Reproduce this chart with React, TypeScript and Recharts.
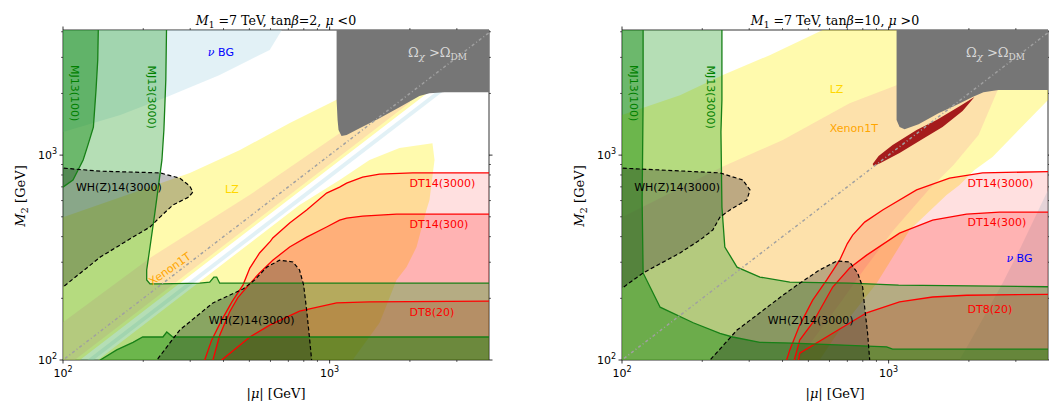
import React from 'react';
import { ScatterChart, Scatter, XAxis, YAxis } from 'recharts';

type P = [number, number];

// axes (|mu| and M2 in GeV, both log)
const X_DOMAIN: [number, number] = [100, 3960];
const Y_DOMAIN: [number, number] = [100, 4080];
const xTicks = [100, 200, 300, 400, 500, 600, 700, 800, 900, 1000, 2000, 3000];
const yTicks = [100, 200, 300, 400, 500, 600, 700, 800, 900, 1000, 2000, 3000, 4000];
const tickExp: Record<number, string> = { 100: '2', 1000: '3' };

// M2 = |mu|
const diagonal: P[] = [[90, 90], [5000, 5000]];

// ---- left: M1 = 7 TeV, tan(beta) = 2, mu < 0 ----
const nuBgTopL: P[] = [[90, 4500], [662, 4500], [662, 4080], [596, 3260], [387, 2460], [245, 1920], [164, 1570], [100, 1296], [90, 1250]];
const nuBgStripeL: P[] = [[120, 92.2], [2700, 2074], [2700, 2192], [120, 97.4]];
const lzUpperL: P[] = [[90, 470], [100, 498], [299, 819], [461, 1059], [709, 1433], [1090, 1895], [1830, 4080], [1900, 5000], [5000, 5000], [5000, 4320], [100, 86.4], [90, 77.8]];
const lzLowerL: P[] = [[90, 66.6], [100, 74], [771, 571], [1090, 756], [1411, 947], [1828, 1082], [2430, 1144], [2474, 947], [2369, 604], [2307, 540], [2118, 356], [1943, 284], [1782, 246], [1540, 152], [1220, 100], [1150, 90], [90, 60]];
const xenonL: P[] = [[90, 138], [100, 153], [212, 315], [501, 638], [1090, 1279], [1540, 1750], [2000, 2600], [2000, 1808], [100, 90.4], [90, 81.4]];
const dt3000L: P[] = [[335, 90], [340, 100], [361, 125], [394, 157], [430, 192], [473, 232], [502, 281], [546, 333], [600, 380], [612, 394], [708, 466], [820, 540], [974, 653], [1090, 698], [1158, 730], [1329, 781], [1538, 808], [2047, 819], [5000, 819], [5000, 90]];
const dt300L: P[] = [[345, 90], [365, 100], [387, 132], [422, 172], [452, 201], [489, 227], [546, 266], [612, 307], [708, 356], [820, 398], [974, 446], [1090, 482], [1158, 493], [1329, 504], [1782, 515], [5000, 515], [5000, 90]];
const dt20L: P[] = [[381, 90], [394, 100], [502, 129.5], [596, 148], [771, 173], [1062, 190], [1411, 192], [5000, 194], [5000, 90]];
const mj3000L: P[] = [[245, 5000], [243, 2329], [239, 1327], [235, 947], [227, 676], [221, 521], [212, 356], [206, 275], [206, 246], [212, 235], [231, 235], [326, 237], [355, 240], [368, 254], [377, 254], [387, 237], [5000, 237], [5000, 80], [80, 80], [80, 5000]];
const mj100aL: P[] = [[136, 5000], [135, 2917], [133, 2081], [130, 1370], [124, 1119], [119, 947], [109, 756], [100, 698], [90, 670], [80, 670], [80, 5000]];
const mj100bL: P[] = [[130, 90], [138, 100], [159, 112], [183, 122], [199, 129.5], [237, 129.5], [245, 137], [258, 129.5], [5000, 129.5], [5000, 90]];
const whUpperL: P[] = [[90, 864], [100, 864], [138, 835], [231, 819], [274, 772], [299, 706], [307, 660], [296, 624], [258, 570], [231, 498], [212, 446], [183, 398], [138, 318], [100, 227], [90, 212]];
const whLowerL: P[] = [[212, 90], [225, 100], [274, 140], [365, 190], [473, 222], [524, 246], [581, 284], [649, 307], [728, 301], [771, 275], [799, 232], [820, 175], [842, 125], [856, 100], [865, 90]];
const omegaL: P[] = [[1062, 4500], [1062, 1860], [1071, 1485], [1080, 1327], [1108, 1238], [1158, 1252], [1295, 1354], [1538, 1515], [1828, 1714], [2172, 1941], [2368, 2007], [2698, 2028], [4500, 2028], [4500, 4500]];

// ---- right: M1 = 7 TeV, tan(beta) = 10, mu > 0 ----
const lzR: P[] = [[90, 1500], [100, 1570], [165, 1962], [239, 2460], [358, 3074], [566, 4080], [600, 5000], [5000, 5000], [5000, 2300], [3960, 1860], [2452, 978], [2099, 846], [1845, 714], [1649, 638], [1199, 431], [902, 237], [655, 140], [551, 100], [500, 80], [80, 80]];
const xenonR: P[] = [[90, 470], [100, 498], [237, 874], [401, 1186], [714, 1793], [1071, 2195], [1300, 3500], [2700, 2700], [2582, 2122], [2174, 1252], [1751, 894], [1411, 676], [1044, 431], [806, 275], [649, 185], [502, 118], [460, 100], [441, 89], [90, 89]];
const nuBgR: P[] = [[4500, 900], [3960, 676], [3094, 344], [2674, 237], [2137, 140], [1845, 100], [1750, 89], [5000, 89]];
const dt3000R: P[] = [[408, 94], [426, 112], [464, 148], [519, 196], [586, 246], [655, 307], [700, 370], [733, 407], [813, 471], [950, 540], [1273, 676], [1692, 772], [2250, 819], [5000, 835], [5000, 90]];
const dt300R: P[] = [[437, 94], [464, 125], [519, 152], [617, 227], [714, 281], [827, 325], [1099, 416], [1462, 482], [1960, 515], [2605, 527], [5000, 527], [5000, 90]];
const dt20R: P[] = [[452, 89], [464, 108], [617, 135], [827, 170], [1099, 192], [1462, 203], [1960, 207], [5000, 210], [5000, 89]];
const mj3000R: P[] = [[237, 5000], [237, 1860], [235, 1300], [237, 558], [243, 356], [270, 284], [329, 254], [426, 240], [714, 237], [1090, 232], [5000, 227], [5000, 80], [80, 80], [80, 5000]];
const mj100R: P[] = [[120, 5000], [120, 1860], [119, 604], [120, 266], [139, 181], [185, 152], [233, 135], [260, 129.5], [329, 122], [437, 121], [983, 116], [1035, 113], [5000, 113], [5000, 80], [80, 80], [80, 5000]];
const whUpperR: P[] = [[90, 864], [100, 864], [233, 819], [284, 756], [302, 676], [294, 604], [254, 540], [233, 498], [219, 431], [196, 385], [165, 333], [120, 266], [100, 224], [90, 215]];
const whLowerR: P[] = [[200, 90], [214, 100], [270, 140], [329, 170], [401, 207], [464, 237], [551, 275], [639, 304], [714, 301], [765, 266], [799, 227], [813, 181], [834, 135], [849, 100], [860, 90]];
const omegaR: P[] = [[1071, 4500], [1071, 1485], [1099, 1370], [1148, 1339], [1295, 1416], [1538, 1603], [1828, 1774], [2064, 1919], [2268, 2028], [2582, 2081], [4500, 2081], [4500, 4500]];
const blobR: P[] = [[871, 904], [917, 989], [1035, 1119], [1273, 1327], [1513, 1485], [1845, 1734], [2099, 1919], [1894, 1640], [1593, 1370], [1341, 1197], [1099, 1023], [933, 914], [879, 884]];

const SANS = 'DejaVu Sans, sans-serif';
const SERIF = 'DejaVu Serif, serif';

const C = {
  nu: '#add8e6',
  lz: '#ffee00',
  xenon: '#fab4aa',
  red: '#ff0000',
  green: '#2ca02c',
  darkGreen: '#008000',
  line: '#178017',
  wh: '#1a1a1a',
  omega: '#767676',
  blob: '#a51c1c',
};

const pts = (d: P[]) => d.map(([x, y]) => ({ x, y }));
const noDot = () => <g />;

function fillItem(key: string, d: P[], fill: string, alpha: number) {
  return (
    <Scatter key={key} data={pts(d)} isAnimationActive={false} shape={noDot}
      line={{ fill, fillOpacity: alpha, stroke: 'none' }} />
  );
}

function lineItem(key: string, d: P[], stroke: string, width: number, dash?: string) {
  return (
    <Scatter key={key} data={pts(d)} isAnimationActive={false} shape={noDot}
      line={{ fill: 'none', stroke, strokeWidth: width, strokeDasharray: dash }} />
  );
}

type NoteOpt = { color: string; anchor?: 'start' | 'middle' | 'end'; rotate?: number; size?: number; family?: string };

function noteItem(key: string, at: P, content: React.ReactNode, o: NoteOpt) {
  return (
    <Scatter key={key} data={[{ x: at[0], y: at[1] }]} isAnimationActive={false}
      shape={(p: any) => (
        <text x={p.cx} y={p.cy} fill={o.color} fontSize={o.size ?? 11} fontFamily={o.family ?? SANS}
          textAnchor={o.anchor ?? 'start'} dominantBaseline={o.rotate ? 'central' : undefined}
          transform={o.rotate ? `rotate(${o.rotate} ${p.cx} ${p.cy})` : undefined}>
          {content}
        </text>
      )} />
  );
}

const omegaText = (
  <>
    Ω<tspan dy={3} fontSize={10} fontStyle="italic">χ</tspan>
    <tspan dy={-3}> &gt;Ω</tspan>
    <tspan dy={3} fontSize={9}>DM</tspan>
  </>
);
const nuText = (
  <>
    <tspan fontFamily={SERIF} fontStyle="italic">ν</tspan> BG
  </>
);

// ---- ticks ----
const tLen = (v: number) => (tickExp[v] ? 3.5 : 2);
const tW = (v: number) => (tickExp[v] ? 0.8 : 0.6);
const pow = (v: number) => (
  <>
    10<tspan dy={-5} fontSize={8}>{tickExp[v]}</tspan>
  </>
);

const BottomTick = ({ x, y, payload }: any) => (
  <g>
    <line x1={x} x2={x} y1={y} y2={y + tLen(payload.value)} stroke="#000" strokeWidth={tW(payload.value)} />
    {tickExp[payload.value] && (
      <text x={x} y={y + 17} textAnchor="middle" fontFamily={SANS} fontSize={11} fill="#000">{pow(payload.value)}</text>
    )}
  </g>
);
const LeftTick = ({ x, y, payload }: any) => (
  <g>
    <line x1={x} x2={x - tLen(payload.value)} y1={y} y2={y} stroke="#000" strokeWidth={tW(payload.value)} />
    {tickExp[payload.value] && (
      <text x={x - 6} y={y + 4} textAnchor="end" fontFamily={SANS} fontSize={11} fill="#000">{pow(payload.value)}</text>
    )}
  </g>
);
const TopTick = ({ x, y, payload }: any) => (
  <line x1={x} x2={x} y1={y} y2={y - tLen(payload.value)} stroke="#000" strokeWidth={tW(payload.value)} />
);
const RightTick = ({ x, y, payload }: any) => (
  <line x1={x} x2={x + tLen(payload.value)} y1={y} y2={y} stroke="#000" strokeWidth={tW(payload.value)} />
);

// plot area: x 63..489, y 30..360 inside a 500x405 chart
function Panel({ items }: { items: React.ReactNode[] }) {
  return (
    <ScatterChart width={500} height={405} margin={{ top: 20, right: 1, bottom: 15, left: 23 }}>
      <XAxis dataKey="x" type="number" scale="log" domain={X_DOMAIN} allowDataOverflow ticks={xTicks}
        interval={0} height={30} tickSize={0} tickMargin={0} tick={BottomTick} stroke="#000" strokeWidth={0.8} />
      <XAxis xAxisId="top" orientation="top" dataKey="x" type="number" scale="log" domain={X_DOMAIN}
        allowDataOverflow ticks={xTicks} interval={0} height={10} tickSize={0} tickMargin={0} tick={TopTick}
        stroke="#000" strokeWidth={0.8} />
      <YAxis dataKey="y" type="number" scale="log" domain={Y_DOMAIN} allowDataOverflow ticks={yTicks}
        interval={0} width={40} tickSize={0} tickMargin={0} tick={LeftTick} stroke="#000" strokeWidth={0.8} />
      <YAxis yAxisId="right" orientation="right" dataKey="y" type="number" scale="log" domain={Y_DOMAIN}
        allowDataOverflow ticks={yTicks} interval={0} width={10} tickSize={0} tickMargin={0} tick={RightTick}
        stroke="#000" strokeWidth={0.8} />
      {items}
    </ScatterChart>
  );
}

const leftItems = [
  fillItem('nu1', nuBgTopL, C.nu, 0.35),
  fillItem('nu2', nuBgStripeL, C.nu, 0.35),
  fillItem('lz1', lzUpperL, C.lz, 0.32),
  fillItem('lz2', lzLowerL, C.lz, 0.32),
  fillItem('xe', xenonL, C.xenon, 0.36),
  fillItem('dt1', dt3000L, C.red, 0.12),
  fillItem('dt2', dt300L, C.red, 0.2),
  fillItem('dt3', dt20L, C.red, 0.25),
  fillItem('mj1', mj3000L, C.green, 0.35),
  fillItem('mj2', mj100aL, C.darkGreen, 0.4),
  fillItem('mj3', mj100bL, C.darkGreen, 0.4),
  fillItem('wh1', whUpperL, C.wh, 0.28),
  fillItem('wh2', whLowerL, C.wh, 0.28),
  fillItem('om', omegaL, C.omega, 1),
  lineItem('ldt1', dt3000L, C.red, 1.3),
  lineItem('ldt2', dt300L, C.red, 1.3),
  lineItem('ldt3', dt20L, C.red, 1.3),
  lineItem('lmj1', mj3000L, C.line, 1.3),
  lineItem('lmj2', mj100aL, C.line, 1.3),
  lineItem('lmj3', mj100bL, C.line, 1.3),
  lineItem('lwh1', whUpperL, '#000', 1.2, '4 2.5'),
  lineItem('lwh2', whLowerL, '#000', 1.2, '4 2.5'),
  lineItem('diag', diagonal, '#a0a0a0', 1.5, '3 2.5 1 2.5'),
  noteItem('n1', [391, 3040], nuText, { color: '#0000ff', anchor: 'middle' }),
  noteItem('n2', [2538, 3006], omegaText, { color: '#d9d9d9', anchor: 'middle', family: SERIF, size: 13 }),
  noteItem('n3', [430, 653], 'LZ', { color: '#ffd700', anchor: 'middle' }),
  noteItem('n4', [252, 278], 'Xenon1T', { color: '#ffa500', anchor: 'middle', rotate: -35 }),
  noteItem('n5', [162, 667], 'WH(Z)14(3000)', { color: '#000', anchor: 'middle' }),
  noteItem('n6', [510, 150], 'WH(Z)14(3000)', { color: '#000', anchor: 'middle' }),
  noteItem('n7', [1993, 698], 'DT14(3000)', { color: '#ff0000' }),
  noteItem('n8', [1993, 440], 'DT14(300)', { color: '#ff0000' }),
  noteItem('n9', [1993, 164], 'DT8(20)', { color: '#ff0000' }),
  noteItem('n10', [110, 2007], 'MJ13(100)', { color: '#008000', anchor: 'middle', rotate: 90 }),
  noteItem('n11', [215, 1919], 'MJ13(3000)', { color: '#008000', anchor: 'middle', rotate: 90 }),
];

const rightItems = [
  fillItem('lz', lzR, C.lz, 0.32),
  fillItem('xe', xenonR, C.xenon, 0.36),
  fillItem('nu', nuBgR, C.nu, 0.35),
  fillItem('dt1', dt3000R, C.red, 0.12),
  fillItem('dt2', dt300R, C.red, 0.2),
  fillItem('dt3', dt20R, C.red, 0.25),
  fillItem('mj1', mj3000R, C.green, 0.35),
  fillItem('mj2', mj100R, C.darkGreen, 0.4),
  fillItem('wh1', whUpperR, C.wh, 0.28),
  fillItem('wh2', whLowerR, C.wh, 0.28),
  fillItem('om', omegaR, C.omega, 1),
  fillItem('blob', blobR, C.blob, 1),
  lineItem('ldt1', dt3000R, C.red, 1.3),
  lineItem('ldt2', dt300R, C.red, 1.3),
  lineItem('ldt3', dt20R, C.red, 1.3),
  lineItem('lmj1', mj3000R, C.line, 1.3),
  lineItem('lmj2', mj100R, C.line, 1.3),
  lineItem('lwh1', whUpperR, '#000', 1.2, '4 2.5'),
  lineItem('lwh2', whLowerR, '#000', 1.2, '4 2.5'),
  lineItem('diag', diagonal, '#a0a0a0', 1.5, '3 2.5 1 2.5'),
  noteItem('n1', [601, 2007], 'LZ', { color: '#ffd700' }),
  noteItem('n2', [601, 1296], 'Xenon1T', { color: '#ffa500' }),
  noteItem('n3', [2516, 3006], omegaText, { color: '#d9d9d9', anchor: 'middle', family: SERIF, size: 13 }),
  noteItem('n4', [1977, 698], 'DT14(3000)', { color: '#ff0000' }),
  noteItem('n5', [1977, 450], 'DT14(300)', { color: '#ff0000' }),
  noteItem('n6', [1977, 170], 'DT8(20)', { color: '#ff0000' }),
  noteItem('n7', [3094, 301], nuText, { color: '#0000ff', anchor: 'middle' }),
  noteItem('n8', [161, 667], 'WH(Z)14(3000)', { color: '#000', anchor: 'middle' }),
  noteItem('n9', [510, 150], 'WH(Z)14(3000)', { color: '#000', anchor: 'middle' }),
  noteItem('n10', [110, 2007], 'MJ13(100)', { color: '#008000', anchor: 'middle', rotate: 90 }),
  noteItem('n11', [215, 1919], 'MJ13(3000)', { color: '#008000', anchor: 'middle', rotate: 90 }),
];

function Title({ x, tanb, sign }: { x: number; tanb: string; sign: string }) {
  return (
    <text x={x} y={25} textAnchor="middle" fontFamily={SERIF} fontSize={12.6} fill="#000">
      <tspan fontStyle="italic">M</tspan>
      <tspan dy={3} fontSize={9}>1</tspan>
      <tspan dy={-3}> =7 TeV, tan</tspan>
      <tspan fontStyle="italic">β</tspan>
      <tspan>={tanb}, </tspan>
      <tspan fontStyle="italic">μ</tspan>
      <tspan> {sign}0</tspan>
    </text>
  );
}

function AxisLabels({ dx }: { dx: number }) {
  return (
    <g fontFamily={SERIF} fontSize={13} fill="#000">
      <text x={276 + dx} y={398} textAnchor="middle">
        |<tspan fontStyle="italic">μ</tspan>| [GeV]
      </text>
      <text x={25 + dx} y={196} textAnchor="middle" transform={`rotate(-90 ${25 + dx} 196)`}>
        <tspan fontStyle="italic">M</tspan>
        <tspan dy={3} fontSize={10}>2</tspan>
        <tspan dy={-3}> [GeV]</tspan>
      </text>
    </g>
  );
}

export default function App() {
  return (
    <div style={{ position: 'absolute', left: 0, top: 0, width: 1049, height: 405, background: '#fff', overflow: 'hidden' }}>
      <div style={{ position: 'absolute', left: 0, top: 0 }}>
        <Panel items={leftItems} />
      </div>
      <div style={{ position: 'absolute', left: 559, top: 0 }}>
        <Panel items={rightItems} />
      </div>
      <svg width={1049} height={405} style={{ position: 'absolute', left: 0, top: 0, pointerEvents: 'none' }}>
        <Title x={276} tanb="2" sign="<" />
        <Title x={835} tanb="10" sign=">" />
        <AxisLabels dx={0} />
        <AxisLabels dx={559} />
      </svg>
    </div>
  );
}
